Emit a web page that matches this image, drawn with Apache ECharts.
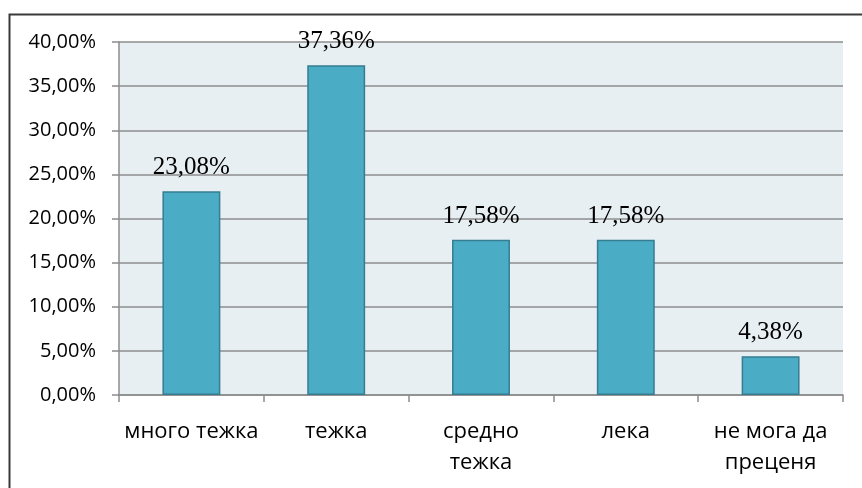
<!DOCTYPE html>
<html><head><meta charset="utf-8">
<script src="https://cdn.jsdelivr.net/npm/echarts@6/dist/echarts.min.js"></script>
<style>html,body{margin:0;padding:0;background:#fff;}#c{width:862px;height:488px;}</style>
</head><body><div id="c"></div>
<script>
const categories = ['много тежка', 'тежка', 'средно\nтежка', 'лека', 'не мога да\nпреценя'];
const values = [23.08, 37.36, 17.58, 17.58, 4.38];
const yTicks = {min: 0, max: 40, interval: 5};

const fmt = v => v.toFixed(2).replace('.', ',') + '%';
const chart = echarts.init(document.getElementById('c'));
chart.setOption({
  animation: false,
  graphic: [{
    type: 'rect', left: 7, top: 12, shape: {x: 0, y: 0, width: 900, height: 520},
    style: {fill: 'none', stroke: '#3a3a3a', lineWidth: 2}, silent: true
  }],
  grid: {left: 119, right: 19, top: 42, bottom: 93, show: true, backgroundColor: '#e8eff3', borderWidth: 0},
  xAxis: {
    type: 'category', data: categories,
    axisLine: {lineStyle: {color: '#8c8c8c', width: 1.5}},
    axisTick: {show: true, length: 7, lineStyle: {color: '#8c8c8c', width: 1.5}},
    axisLabel: {color: '#000', fontFamily: 'Open Sans', fontSize: 22, margin: 21, lineHeight: 31,
      interval: 0, hideOverlap: false}
  },
  yAxis: {
    type: 'value', min: yTicks.min, max: yTicks.max, interval: yTicks.interval,
    axisLine: {show: true, lineStyle: {color: '#8c8c8c', width: 1.5}},
    axisTick: {show: true, length: 7, lineStyle: {color: '#8c8c8c', width: 1.5}},
    splitLine: {lineStyle: {color: '#8c8c8c', width: 1.5}},
    axisLabel: {color: '#000', fontFamily: 'Open Sans', fontSize: 20, margin: 23, formatter: fmt}
  },
  series: [{
    type: 'bar', data: values, barWidth: '40%',
    itemStyle: {color: '#4bacc6', borderColor: '#357d91', borderWidth: 1.5},
    label: {show: true, position: 'top', distance: 11, color: '#000',
      fontFamily: 'Liberation Serif', fontSize: 25, formatter: p => fmt(p.value)}
  }]
});
</script></body></html>
